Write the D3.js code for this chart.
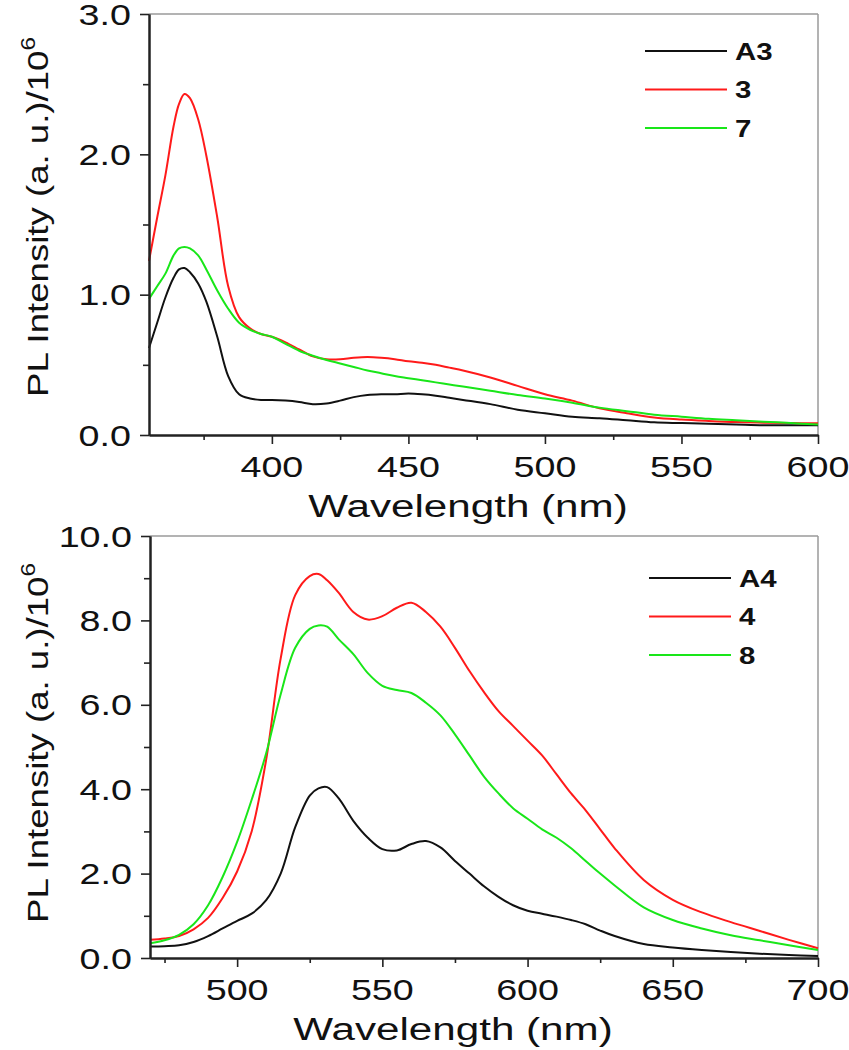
<!DOCTYPE html>
<html>
<head>
<meta charset="utf-8">
<script src="https://cdn.jsdelivr.net/npm/d3@7"></script>
<style>
  html, body { margin: 0; padding: 0; background: #fff; }
  svg { display: block; }
  text { font-family: "Liberation Sans", Arial, sans-serif; fill: #111; }
</style>
</head>
<body>
<svg id="chart" width="849" height="1050"></svg>
<script>
// ---------- Data: top panel ----------
const topWavelengths = [355, 358, 361, 364, 366, 368, 370, 373, 376, 380, 384, 388, 392, 396, 400, 405, 410, 415, 420, 425, 430, 435, 440, 445, 450, 455, 460, 465, 470, 480, 490, 500, 510, 520, 530, 540, 550, 560, 570, 580, 590, 600];
const seriesA3 = [0.62, 0.80, 0.98, 1.12, 1.18, 1.19, 1.16, 1.08, 0.95, 0.70, 0.42, 0.29, 0.26, 0.25, 0.25, 0.245, 0.235, 0.22, 0.225, 0.245, 0.27, 0.285, 0.29, 0.29, 0.295, 0.29, 0.28, 0.265, 0.25, 0.22, 0.18, 0.155, 0.13, 0.12, 0.105, 0.09, 0.085, 0.08, 0.075, 0.07, 0.07, 0.07];
const series3 = [1.24, 1.55, 1.85, 2.20, 2.36, 2.43, 2.40, 2.25, 1.99, 1.55, 1.06, 0.84, 0.76, 0.72, 0.70, 0.66, 0.61, 0.56, 0.54, 0.54, 0.55, 0.555, 0.55, 0.54, 0.525, 0.515, 0.50, 0.48, 0.46, 0.41, 0.35, 0.29, 0.245, 0.19, 0.155, 0.125, 0.11, 0.10, 0.092, 0.088, 0.085, 0.083];
const series7 = [0.97, 1.06, 1.15, 1.28, 1.33, 1.34, 1.33, 1.28, 1.18, 1.03, 0.90, 0.80, 0.75, 0.72, 0.70, 0.65, 0.60, 0.565, 0.535, 0.51, 0.485, 0.46, 0.44, 0.42, 0.405, 0.39, 0.375, 0.36, 0.345, 0.315, 0.285, 0.26, 0.23, 0.195, 0.17, 0.145, 0.13, 0.115, 0.105, 0.095, 0.085, 0.075];
const topNames = ["A3", "3", "7"];
const topXTicks = [400, 450, 500, 550, 600];
const topXMinor = [375, 425, 475, 525, 575];
const topYTicks = [0, 1, 2, 3];
const topYMinor = [0.5, 1.5, 2.5];

// ---------- Data: bottom panel ----------
const bottomWavelengths = [470, 475, 480, 485, 490, 495, 500, 505, 510, 515, 520, 525, 528, 531, 535, 540, 545, 550, 555, 560, 565, 570, 575, 580, 585, 590, 595, 600, 605, 610, 615, 620, 625, 630, 640, 650, 660, 670, 680, 690, 700];
const seriesA4 = [0.27, 0.28, 0.30, 0.38, 0.52, 0.70, 0.88, 1.05, 1.37, 2.0, 3.1, 3.85, 4.02, 4.05, 3.78, 3.25, 2.85, 2.58, 2.55, 2.70, 2.77, 2.62, 2.30, 2.0, 1.70, 1.45, 1.25, 1.12, 1.05, 0.98, 0.90, 0.80, 0.65, 0.52, 0.33, 0.25, 0.19, 0.14, 0.10, 0.07, 0.05];
const series4 = [0.43, 0.46, 0.52, 0.68, 0.95, 1.42, 2.05, 3.0, 4.7, 7.1, 8.6, 9.05, 9.1, 8.95, 8.65, 8.2, 8.02, 8.1, 8.3, 8.42, 8.2, 7.85, 7.35, 6.8, 6.3, 5.85, 5.5, 5.15, 4.8, 4.35, 3.9, 3.5, 3.05, 2.6, 1.85, 1.38, 1.08, 0.85, 0.64, 0.43, 0.23];
const series8 = [0.35, 0.42, 0.55, 0.80, 1.25, 1.92, 2.75, 3.75, 4.85, 6.25, 7.35, 7.8, 7.88, 7.85, 7.55, 7.2, 6.75, 6.45, 6.35, 6.28, 6.05, 5.75, 5.3, 4.8, 4.3, 3.9, 3.55, 3.3, 3.05, 2.85, 2.6, 2.3, 2.0, 1.72, 1.2, 0.9, 0.7, 0.54, 0.42, 0.3, 0.19];
const bottomNames = ["A4", "4", "8"];
const bottomXTicks = [500, 550, 600, 650, 700];
const bottomXMinor = [475, 525, 575, 625, 675];
const bottomYTicks = [0, 2, 4, 6, 8, 10];
const bottomYMinor = [1, 3, 5, 7, 9];

const seriesColors = ["#111111", "#ff1a1a", "#19e619"];

const svg = d3.select("#chart");
const SX = 1.3; // horizontal stretch of the original lettering

function drawPanel(cfg) {
  const x = d3.scaleLinear().domain(cfg.xDomain).range([cfg.left, cfg.right]);
  const y = d3.scaleLinear().domain(cfg.yDomain).range([cfg.bottom, cfg.top]);
  const g = svg.append("g");

  // frame top/right (grey)
  g.append("line").attr("x1", cfg.left).attr("x2", cfg.right).attr("y1", cfg.top).attr("y2", cfg.top)
    .attr("stroke", "#9a9a9a").attr("stroke-width", 1.5);
  g.append("line").attr("x1", cfg.right).attr("x2", cfg.right).attr("y1", cfg.top).attr("y2", cfg.bottom)
    .attr("stroke", "#9a9a9a").attr("stroke-width", 1.5);

  // curves
  const line = d3.line().curve(d3.curveCatmullRom.alpha(0.5));
  cfg.series.forEach((vals, i) => {
    const pts = cfg.wl.map((w, j) => [x(w), y(vals[j])]);
    g.append("path").attr("d", line(pts)).attr("fill", "none")
      .attr("stroke", seriesColors[i]).attr("stroke-width", 2).attr("stroke-linejoin", "round");
  });

  // axes
  function styleAxis(sel) {
    sel.selectAll("path.domain").attr("stroke", "#222").attr("stroke-width", 2);
    sel.selectAll(".tick line").attr("stroke", "#222").attr("stroke-width", 1.6);
    sel.selectAll(".tick text").remove();
  }
  const yAx = g.append("g").attr("transform", `translate(${cfg.left},0)`)
    .call(d3.axisLeft(y).tickValues(cfg.yTicks).tickSize(9).tickSizeOuter(0).tickFormat(""));
  styleAxis(yAx);
  const yMin = g.append("g").attr("transform", `translate(${cfg.left},0)`)
    .call(d3.axisLeft(y).tickValues(cfg.yMinor).tickSize(6).tickSizeOuter(0).tickFormat(""));
  styleAxis(yMin);
  const xAx = g.append("g").attr("transform", `translate(0,${cfg.bottom})`)
    .call(d3.axisBottom(x).tickValues(cfg.xTicks).tickSize(9).tickSizeOuter(0).tickFormat(""));
  styleAxis(xAx);
  const xMin = g.append("g").attr("transform", `translate(0,${cfg.bottom})`)
    .call(d3.axisBottom(x).tickValues(cfg.xMinor).tickSize(5).tickSizeOuter(0).tickFormat(""));
  styleAxis(xMin);

  // tick labels
  const fmt = d3.format(".1f");
  g.selectAll("text.ylab").data(cfg.yTicks).join("text").attr("class", "ylab")
    .attr("transform", d => `translate(${cfg.left - 18},${y(d) + 10.5}) scale(${SX},1)`)
    .attr("text-anchor", "end").attr("font-size", 29).text(d => fmt(d));
  g.selectAll("text.xlab").data(cfg.xTicks).join("text").attr("class", "xlab")
    .attr("transform", d => `translate(${x(d)},${cfg.bottom + 42}) scale(${SX},1)`)
    .attr("text-anchor", "middle").attr("font-size", 29).text(d => d);

  // axis titles
  g.append("text")
    .attr("transform", `translate(${cfg.xTitleX},${cfg.bottom + 82}) scale(1.36,1)`)
    .attr("text-anchor", "middle").attr("font-size", 31).text("Wavelength (nm)");
  const yt = g.append("text")
    .attr("transform", `translate(48,${cfg.yTitleStart}) rotate(-90) scale(1.22,1)`)
    .attr("text-anchor", "start").attr("font-size", 30);
  yt.append("tspan").text("PL Intensity (a. u.)/10");
  yt.append("tspan").attr("dy", -13).attr("font-size", 20).text("6");

  // legend
  cfg.names.forEach((name, i) => {
    const ly = cfg.legendY + i * 38.5;
    g.append("line").attr("x1", cfg.legendX).attr("x2", cfg.legendX + 82)
      .attr("y1", ly).attr("y2", ly).attr("stroke", seriesColors[i]).attr("stroke-width", 2);
    g.append("text")
      .attr("transform", `translate(${cfg.legendX + 90},${ly + 8.5}) scale(1.28,1)`)
      .attr("font-size", 23).attr("font-weight", "bold").text(name);
  });
}

drawPanel({
  left: 149, right: 818, top: 14, bottom: 435,
  xDomain: [355, 600], yDomain: [0, 3],
  wl: topWavelengths, series: [seriesA3, series3, series7], names: topNames,
  xTicks: topXTicks, xMinor: topXMinor, yTicks: topYTicks, yMinor: topYMinor,
  xTitleX: 468, yTitleStart: 397, legendX: 645, legendY: 51
});

drawPanel({
  left: 150, right: 818, top: 536, bottom: 958,
  xDomain: [470, 700], yDomain: [0, 10],
  wl: bottomWavelengths, series: [seriesA4, series4, series8], names: bottomNames,
  xTicks: bottomXTicks, xMinor: bottomXMinor, yTicks: bottomYTicks, yMinor: bottomYMinor,
  xTitleX: 453, yTitleStart: 923, legendX: 649, legendY: 578
});
</script>
</body>
</html>
